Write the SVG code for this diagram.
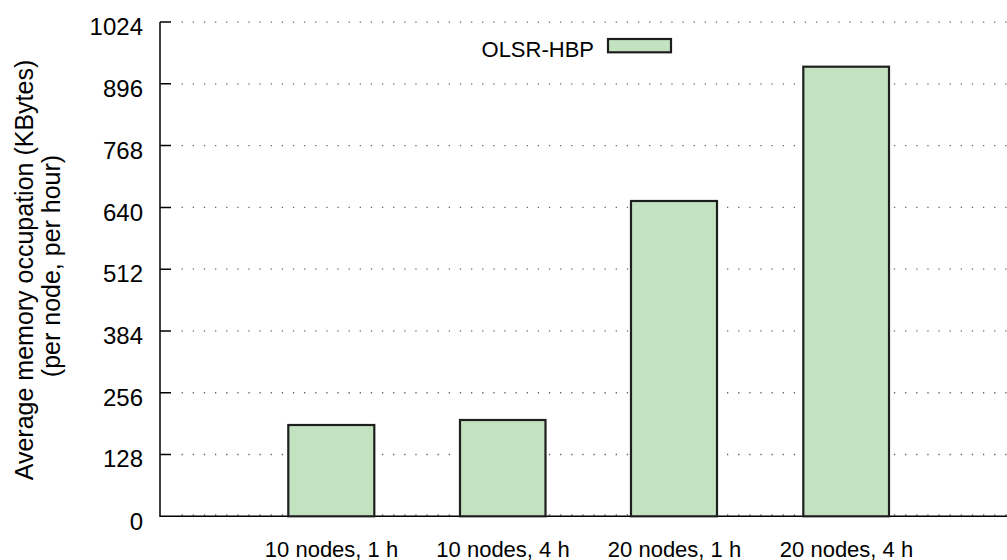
<svg xmlns="http://www.w3.org/2000/svg" width="1007" height="560" viewBox="0 0 1007 560">
<style>
.grid{stroke:#666;stroke-width:1.3;stroke-dasharray:1.3 9.83;fill:none}
.axis{stroke:#000;stroke-width:1.5;fill:none}
.bar{fill:#c3e3c0;stroke:#1e1e1e;stroke-width:2.2}
.ytick{font-family:"Liberation Sans",Arial,sans-serif;font-size:24px;text-anchor:end;fill:#000}
.xlab{font-family:"Liberation Sans",Arial,sans-serif;font-size:22px;text-anchor:middle;fill:#000}
.ylab{font-family:"Liberation Sans",Arial,sans-serif;font-size:25px;text-anchor:middle;fill:#000}
.leg{font-family:"Liberation Sans",Arial,sans-serif;font-size:22px;text-anchor:end;fill:#000}
</style>
<rect width="1007" height="560" fill="#fff"/>
<g id="grid">
<line class="grid" x1="181.6" y1="22.06" x2="1007" y2="22.06"/>
<line class="grid" x1="181.6" y1="83.84" x2="1007" y2="83.84"/>
<line class="grid" x1="181.6" y1="145.62" x2="1007" y2="145.62"/>
<line class="grid" x1="181.6" y1="207.4" x2="1007" y2="207.4"/>
<line class="grid" x1="181.6" y1="269.18" x2="1007" y2="269.18"/>
<line class="grid" x1="181.6" y1="330.96" x2="1007" y2="330.96"/>
<line class="grid" x1="181.6" y1="392.74" x2="1007" y2="392.74"/>
<line class="grid" x1="181.6" y1="454.52" x2="1007" y2="454.52"/>
<line class="grid" x1="181.6" y1="515" x2="1007" y2="515"/>
</g>
<g id="axes">
<path class="axis" d="M160,22.06 V516.3 H1007"/>
<path class="axis" d="M160,22.06 h11 M160,83.84 h11 M160,145.62 h11 M160,207.4 h11 M160,269.18 h11 M160,330.96 h11 M160,392.74 h11 M160,454.52 h11"/>
</g>
<g id="yticks">
<text class="ytick" x="143" y="35">1024</text>
<text class="ytick" x="143" y="97">896</text>
<text class="ytick" x="143" y="159">768</text>
<text class="ytick" x="143" y="221">640</text>
<text class="ytick" x="143" y="282">512</text>
<text class="ytick" x="143" y="344">384</text>
<text class="ytick" x="143" y="406">256</text>
<text class="ytick" x="143" y="467">128</text>
<text class="ytick" x="143" y="530">0</text>
</g>
<g id="ylabel">
<text class="ylab" transform="translate(33,270) rotate(-90)">Average memory occupation (KBytes)</text>
<text class="ylab" transform="translate(60,266) rotate(-90)">(per node, per hour)</text>
</g>
<g id="bar1"><rect class="bar" x="288.3" y="425" width="86" height="91.3"/></g>
<g id="bar2"><rect class="bar" x="460" y="420" width="85.5" height="96.3"/></g>
<g id="bar3"><rect class="bar" x="631" y="201" width="86" height="315.3"/></g>
<g id="bar4"><rect class="bar" x="803.3" y="66.7" width="85.7" height="449.6"/></g>
<g id="xlabels">
<text class="xlab" x="331.5" y="557">10 nodes, 1 h</text>
<text class="xlab" x="503" y="557">10 nodes, 4 h</text>
<text class="xlab" x="674.5" y="557">20 nodes, 1 h</text>
<text class="xlab" x="846.5" y="557">20 nodes, 4 h</text>
</g>
<g id="legend">
<text class="leg" x="594" y="57">OLSR-HBP</text>
<rect class="bar" x="608" y="39" width="63" height="13.3"/>
</g>
</svg>
